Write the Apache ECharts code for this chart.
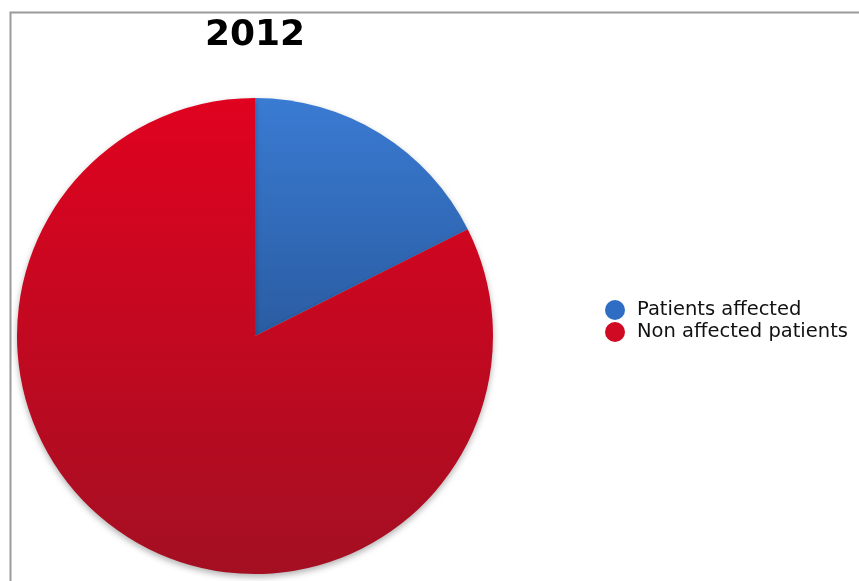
<!DOCTYPE html>
<html><head><meta charset="utf-8">
<script src="https://cdn.jsdelivr.net/npm/echarts@6/dist/echarts.min.js"></script>
<style>html,body{margin:0;padding:0;background:#fff}#c{width:859px;height:581px}</style>
</head><body><div id="c"></div>
<script>
const titleText = "2012";
const categories = ["Patients affected", "Non affected patients"];
const values = [17.6, 82.4];
const chart = echarts.init(document.getElementById('c'), null, {renderer:'canvas'});
const grads = [
  new echarts.graphic.LinearGradient(0,0,0,1,[{offset:0,color:'#3a7bd3'},{offset:1,color:'#2a5ca2'}]),
  new echarts.graphic.LinearGradient(0,0,0,1,[{offset:0,color:'#e0021f'},{offset:1,color:'#a40f22'}])
];
const legendColors = ['#2f6cc4','#d10a24'];
chart.setOption({
  animation:false,
  title:{text:titleText,left:250,top:13,textAlign:'center',
    textStyle:{fontFamily:'DejaVu Sans',fontWeight:'bold',fontSize:36,color:'#000'}},
  graphic:[{type:'rect',shape:{x:10.5,y:12.5,width:900,height:600},
    style:{fill:'none',stroke:'#9a9a9a',lineWidth:2},silent:true,z:-1}],
  legend:{orient:'vertical',left:600,top:295,itemWidth:20,itemHeight:20,itemGap:2,icon:'circle',
    textStyle:{fontFamily:'DejaVu Sans',fontSize:19.5,color:'#111',padding:[0,0,0,7]},
    data:categories.map((n,i)=>({name:n,itemStyle:{color:legendColors[i]}}))},
  series:[{type:'pie',center:[255,336],radius:238,startAngle:90,clockwise:true,
    label:{show:false},labelLine:{show:false},emphasis:{disabled:true},
    itemStyle:{shadowBlur:6,shadowColor:'rgba(0,0,0,0.3)',shadowOffsetY:3},
    data:categories.map((n,i)=>({name:n,value:values[i],itemStyle:{color:grads[i]}}))}]
});
</script></body></html>
